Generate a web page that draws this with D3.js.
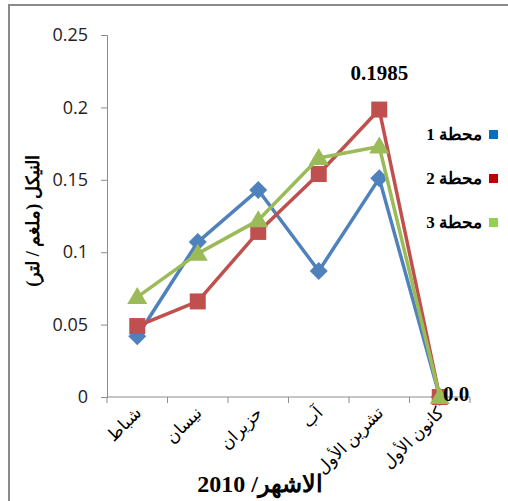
<!DOCTYPE html>
<html>
<head>
<meta charset="utf-8">
<script src="https://cdn.jsdelivr.net/npm/d3@7"></script>
<style>
  html, body { margin: 0; padding: 0; background: #fff; }
  svg { display: block; }
</style>
</head>
<body>
<svg id="chart" width="508" height="501"></svg>
<script>
// Months of 2010 (category axis)
const months = ["شباط", "نيسان", "حزيران", "آب", "تشرين الأول", "كانون الأول"];
// Nickel concentration (mg/L) per station
const station1 = [0.042, 0.107, 0.143, 0.087, 0.151, 0.0];
const station2 = [0.049, 0.066, 0.114, 0.154, 0.1985, 0.0];
const station3 = [0.069, 0.099, 0.122, 0.165, 0.173, 0.0];
const seriesNames = ["محطة 1", "محطة 2", "محطة 3"];
const yTicks = [0, 0.05, 0.1, 0.15, 0.2, 0.25];

const svg = d3.select("#chart");

const lineColors = ["#4F81BD", "#C0504D", "#9BBB59"];
const legendColors = ["#0070C0", "#C00000", "#92D050"];
const markers = ["diamond", "square", "triangle"];

// chart frame
svg.append("rect")
  .attr("x", 9).attr("y", 5).attr("width", 620).attr("height", 620)
  .attr("fill", "none").attr("stroke", "#8a8a8a").attr("stroke-width", 2);

const x = d3.scaleBand().domain(months).range([107, 470]);
const y = d3.scaleLinear().domain([0, 0.25]).range([397, 35]);

const axisColor = "#8c8c8c";

// y axis
const yAxis = svg.append("g").attr("transform", "translate(107,0)")
  .call(d3.axisLeft(y).tickValues(yTicks).tickSize(6).tickPadding(13)
    .tickFormat(d => d === 0 ? "0" : String(d)));
yAxis.select(".domain").attr("stroke", axisColor);
yAxis.selectAll(".tick line").attr("stroke", axisColor);
yAxis.selectAll(".tick text")
  .attr("font-family", "'Open Sans', sans-serif")
  .attr("font-size", 18).attr("fill", "#222");

// x axis: ticks sit on category boundaries
const xg = svg.append("g").attr("transform", "translate(0,397)");
xg.append("line").attr("x1", 107).attr("x2", 470).attr("stroke", axisColor);
const bounds = months.map(m => x(m)).concat([x.range()[1]]);
xg.selectAll("line.tk").data(bounds).join("line").attr("class", "tk")
  .attr("x1", d => d).attr("x2", d => d).attr("y1", 0).attr("y2", 6)
  .attr("stroke", axisColor);

// rotated month labels
svg.append("g").selectAll("text").data(months).join("text")
  .attr("transform", d => `translate(${x(d) + x.bandwidth() / 2 + 5},${414}) rotate(-45)`)
  .attr("text-anchor", "end")
  .attr("font-family", "'Liberation Serif', 'DejaVu Sans', serif")
  .attr("font-size", 17).attr("fill", "#000")
  .text(d => d);

// series lines and markers
const allSeries = [station1, station2, station3];
const cx = (i) => x(months[i]) + x.bandwidth() / 2;
const line = d3.line().x((d, i) => cx(i)).y(d => y(d));

allSeries.forEach((vals, s) => {
  const g = svg.append("g");
  g.append("path").datum(vals).attr("d", line)
    .attr("fill", "none").attr("stroke", lineColors[s]).attr("stroke-width", 3.5)
    .attr("stroke-linejoin", "round");
  const pts = g.selectAll("path.mk").data(vals).join("path").attr("class", "mk")
    .attr("transform", (d, i) => `translate(${cx(i)},${y(d)})`)
    .attr("fill", lineColors[s]);
  if (markers[s] === "diamond") {
    pts.attr("d", "M0,-9L9,0L0,9L-9,0Z");
  } else if (markers[s] === "square") {
    pts.attr("d", "M-8,-8H8V8H-8Z");
  } else {
    pts.attr("d", "M0,-10L10,7L-10,7Z");
  }
});

// value labels
const serif = "'Liberation Serif', 'DejaVu Serif', serif";
svg.append("text").attr("x", cx(4)).attr("y", 80)
  .attr("text-anchor", "middle").attr("font-family", serif)
  .attr("font-weight", "bold").attr("font-size", 21).text(d3.format(".4f")(station2[4]));
svg.append("text").attr("x", 443).attr("y", 401)
  .attr("font-family", serif)
  .attr("font-weight", "bold").attr("font-size", 21).text(d3.format(".1f")(station2[5]));

// legend
const lg = svg.append("g");
seriesNames.forEach((n, i) => {
  const yy = 134 + i * 44;
  lg.append("rect").attr("x", 489).attr("y", yy - 4).attr("width", 9).attr("height", 9)
    .attr("fill", legendColors[i]);
  lg.append("text").attr("x", 482).attr("y", yy + 6)
    .attr("text-anchor", "end").attr("font-family", serif)
    .attr("font-weight", "bold").attr("font-size", 17).text(n);
});

// axis titles
svg.append("text")
  .attr("transform", "translate(39,221) rotate(-90)")
  .attr("text-anchor", "middle").attr("font-family", serif)
  .attr("font-weight", "bold").attr("font-size", 18)
  .text("النيكل (ملغم / لتر)");

svg.append("text")
  .attr("x", 260).attr("y", 492)
  .attr("text-anchor", "middle").attr("direction", "rtl")
  .attr("font-family", serif)
  .attr("font-weight", "bold").attr("font-size", 24)
  .text("الاشهر/ 2010");
</script>
</body>
</html>
